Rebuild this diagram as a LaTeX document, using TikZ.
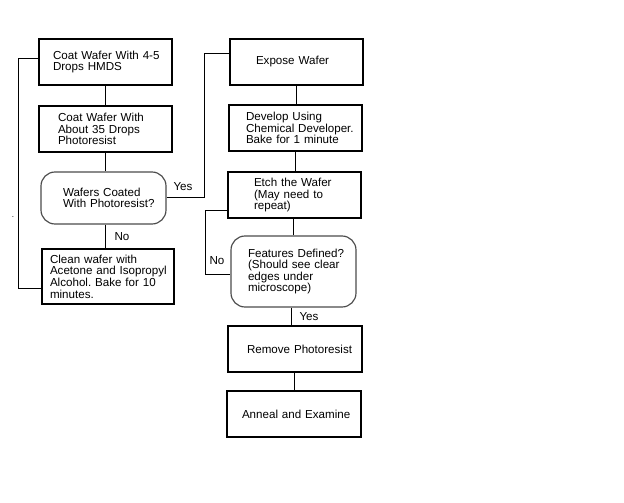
\documentclass[tikz,border=0pt]{standalone}
\usepackage{fontspec}
\setmainfont{Liberation Sans}
\newcommand\ml[1]{\mbox{#1}}
\frenchspacing
\begin{document}
\begin{tikzpicture}[x=1pt,y=-1pt,
  box/.style={draw=black, line width=1.15pt, rectangle, inner ysep=0pt, align=left,
    font=\fontsize{11.6}{11.6}\selectfont, minimum height=46pt},
  dec/.style={box, draw=black!70, rounded corners=14pt},
  conn/.style={draw=black, line width=1pt},
  lbl/.style={font=\fontsize{11.6}{11.6}\selectfont, inner sep=0pt}]
\useasboundingbox (0,0) rectangle (624,503);
\fill[white] (0,0) rectangle (624,503);
% left column
\node[box, minimum width=133pt, text width=105pt, inner xsep=14pt] (b1) at (105.5,62)
  {\ml{Coat Wafer With 4-5}\\\ml{Drops HMDS}};
\node[box, minimum width=133pt, text width=95pt, inner xsep=19pt] (b2) at (105.5,129)
  {\ml{Coat Wafer With}\\\ml{About 35 Drops}\\\ml{Photoresist}};
\node[dec, minimum width=125pt, minimum height=52pt, text width=81pt, inner xsep=22pt] (d1) at (103.5,198)
  {\ml{Wafers Coated}\\\ml{With Photoresist?}};
\node[box, minimum width=132pt, minimum height=55pt, text width=116pt, inner xsep=8pt] (b4) at (108,276.5)
  {\ml{Clean wafer with}\\\ml{Acetone and Isopropyl}\\\ml{Alcohol. Bake for 10}\\\ml{minutes.}};
% right column
\node[box, minimum width=133pt, text width=81pt, inner xsep=26pt] (ex) at (296.5,62)
  {\ml{Expose Wafer}};
\node[box, minimum width=133pt, text width=99pt, inner xsep=17pt] (dv) at (295.5,128)
  {\ml{Develop Using}\\\ml{Chemical Developer.}\\\ml{Bake for 1 minute}};
\node[box, minimum width=133pt, text width=81pt, inner xsep=26pt] (et) at (294.5,195)
  {\ml{Etch the Wafer}\\\ml{(May need to}\\\ml{repeat)}};
\node[dec, minimum width=125pt, minimum height=71pt, text width=91pt, inner xsep=17pt] (fd) at (293.5,271.5)
  {\ml{Features Defined?}\\\ml{(Should see clear}\\\ml{edges under}\\\ml{microscope)}};
\node[box, minimum width=134pt, text width=96pt, inner xsep=19pt] (rp) at (295,349)
  {\ml{Remove Photoresist}};
\node[box, minimum width=134pt, text width=104pt, inner xsep=15pt] (an) at (294,414)
  {\ml{Anneal and Examine}};
% helper coordinates
\coordinate (lpb) at (18,288);
\coordinate (lpt) at (18,59);
\coordinate (ly) at (204,197);
\coordinate (lno) at (205,274);
% connectors
\draw[conn] (b1.south) -- (b2.north);
\draw[conn] (b2.south) -- (b2.south |- d1.north);
\draw[conn] (b2.south |- d1.south) -- (b2.south |- b4.north);
\draw[conn] ([yshift=-11.5pt]b4.west) -- (lpb) -- (lpt) -- ([yshift=3pt]b1.west);
\draw[conn] (d1.east |- ly) -- (ly) |- ([yshift=8pt]ex.west);
\draw[conn] (ex.south) -- (ex.south |- dv.north);
\draw[conn] (dv.south) -- (dv.south |- et.north);
\draw[conn] (fd.north -| 293,0) -- (et.south -| 293,0);
\draw[conn] ([yshift=-15pt]et.west) -| (lno) -- (fd.west |- lno);
\draw[conn] (fd.south -| 291,0) -- (rp.north -| 291,0);
\draw[conn] (rp.south -| 294,0) -- (an.north -| 294,0);
% labels
\node[lbl] (yes1) at (183,187) {Yes};
\node[lbl] (no1) at (122,237) {No};
\node[lbl] (no2) at (217,261) {No};
\node[lbl] (yes2) at (309,317) {Yes};
\node[lbl, font=\fontsize{8}{8}\selectfont] (dot) at (13,217) {.};
\end{tikzpicture}
\end{document}
